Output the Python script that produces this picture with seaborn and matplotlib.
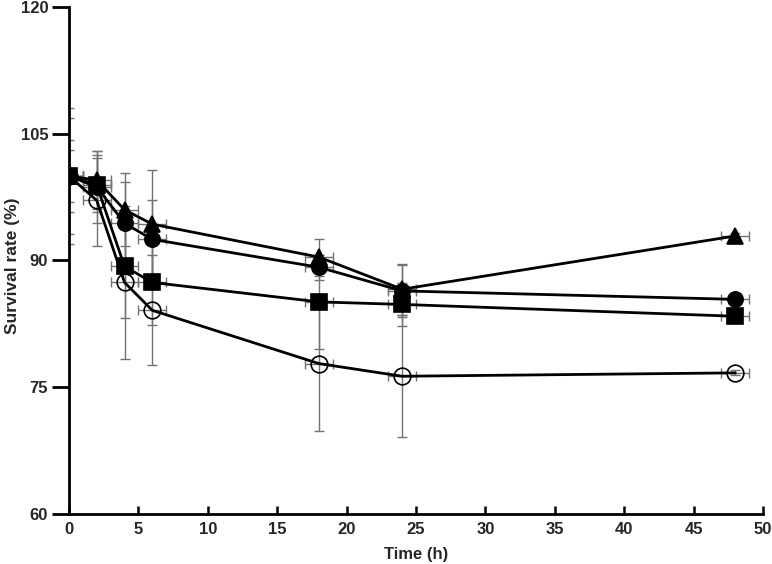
import matplotlib
matplotlib.use("Agg")
import matplotlib.pyplot as plt
import seaborn as sns
import pandas as pd

# ---- data ----
time_h = [0, 2, 4, 6, 18, 24, 48]
time_err = [1, 1, 1, 1, 1, 1, 1]

tri_mean = [100, 99.5, 96.0, 94.3, 90.4, 86.6, 92.9]
tri_sd = [6.9, 3.4, 4.3, 6.4, 2.2, 3.0, 0.3]

circ_mean = [100, 98.7, 94.4, 92.5, 89.2, 86.4, 85.4]
circ_sd = [4.3, 4.3, 4.9, 4.7, 1.5, 3.1, 0.3]

sq_mean = [100, 98.9, 89.3, 87.4, 85.1, 84.8, 83.4]
sq_sd = [3.1, 3.2, 6.1, 5.0, 5.6, 2.5, 0.3]

open_mean = [100, 97.1, 87.4, 84.1, 77.8, 76.3, 76.7]
open_sd = [8.1, 5.4, 9.1, 6.5, 8.0, 7.2, 0.3]

x_ticks = [0, 5, 10, 15, 20, 25, 30, 35, 40, 45, 50]
y_ticks = [60, 75, 90, 105, 120]

sns.set_theme(style="white")
plt.rcParams['font.family'] = ['Liberation Sans', 'DejaVu Sans']
plt.rcParams['font.weight'] = 'bold'

fig = plt.figure(figsize=(7.72, 5.64), dpi=100)
ax = fig.add_axes([0.0894, 0.0887, 0.899, 0.8989])

series = [
    ("open", open_mean, open_sd, "o", "none", 12),
    ("square", sq_mean, sq_sd, "s", "black", 12),
    ("circle", circ_mean, circ_sd, "o", "black", 11),
    ("triangle", tri_mean, tri_sd, "^", "black", 11),
]

# error bars first (gray), then lines+markers
for name, m, sd, mk, fc, ms in series:
    ax.errorbar(time_h, m, yerr=sd, xerr=time_err, fmt="none",
                ecolor="#737373", elinewidth=1.0, capsize=3.8, capthick=1.0,
                zorder=1)

draw_order = ["open", "circle", "triangle", "square"]
lookup = {s[0]: s for s in series}
for name in draw_order:
    _, m, sd, mk, fc, ms = lookup[name]
    df = pd.DataFrame({"Time": time_h, "Rate": m})
    sns.lineplot(data=df, x="Time", y="Rate", ax=ax, color="black",
                 linewidth=2.0, marker=mk, markersize=ms,
                 markerfacecolor=fc, markeredgecolor="black",
                 markeredgewidth=1.2, zorder=3)

ax.set_xlim(0, 50)
ax.set_ylim(60, 120)
ax.set_xticks(x_ticks)
ax.set_yticks(y_ticks)
ax.set_xticklabels([str(v) for v in x_ticks], fontsize=12, fontweight='bold')
ax.set_yticklabels([str(v) for v in y_ticks], fontsize=12, fontweight='bold')

for s in ["top", "right"]:
    ax.spines[s].set_visible(False)
for s in ["left", "bottom"]:
    ax.spines[s].set_linewidth(2.0)
    ax.spines[s].set_color("black")

ax.tick_params(axis="y", direction="out", length=12, width=2.0, color="black",
               left=True, pad=3)
ax.tick_params(axis="x", direction="in", length=6, width=1.8, color="black",
               bottom=True, pad=6)

ax.set_xlabel("Time (h)", fontsize=12, fontweight='bold', labelpad=7)
ax.set_ylabel("Survival rate (%)", fontsize=12.5, fontweight='bold')
ax.yaxis.set_label_coords(-0.071, 0.49)
ax.grid(False)

fig.savefig("out.png", dpi=100)
